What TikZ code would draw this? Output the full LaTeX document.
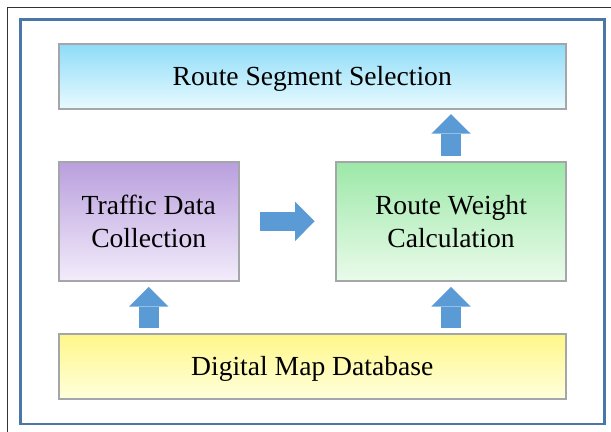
\documentclass[tikz,border=0pt]{standalone}
\usepackage{fontspec}
\setmainfont{Liberation Serif}
\usetikzlibrary{arrows.meta}
\definecolor{frame}{HTML}{4A76A8}
\definecolor{arrow}{HTML}{5B9BD5}
\definecolor{rim}{HTML}{A4A6AA}
\definecolor{skytop}{HTML}{8EDCF8}
\definecolor{skybot}{HTML}{E8FAFF}
\definecolor{lilactop}{HTML}{B99FDD}
\definecolor{lilacbot}{HTML}{F3ECFB}
\definecolor{mintop}{HTML}{9CE8A8}
\definecolor{minbot}{HTML}{EAFBEA}
\definecolor{lemontop}{HTML}{FFF78A}
\definecolor{lemonbot}{HTML}{FFFFDC}

\begin{document}
\begin{tikzpicture}[x=0.5pt, y=-0.5pt,
		every node/.style={font=\fontsize{13.8}{16.5}\selectfont, align=center},
		block/.style={draw=rim, line width=1pt, inner sep=0pt},
		wide/.style={block, minimum width=253.75pt, minimum height=32.35pt, text depth=0pt},
		tall/.style={block, minimum height=59.65pt},
		blockarrow/.style={draw=arrow, line width=9.75pt,
			-{Triangle[width=19.7pt, length=9.8pt, line width=0pt, fill=arrow]}}
	]
		\useasboundingbox (0,0) rectangle (611,432);
		\draw [black!80, line width=0.5pt] (7,432) -- (7,8) -- (611,8);
		\draw [frame, line width=1.3pt] (20.5,19.5) rectangle (604.5,424);
		%
		\node [wide, top color=skytop, bottom color=skybot] (rss) at (312.25,76.35) {Route Segment Selection};
		\node [tall, minimum width=90.25pt, top color=lilactop, bottom color=lilacbot] (tdc) at (148.75,221.35) {Traffic Data\\Collection};
		\node [tall, minimum width=115pt, top color=mintop, bottom color=minbot] (rwc) at (451,221.35) {Route Weight\\Calculation};
		\node [wide, top color=lemontop, bottom color=lemonbot] (dmd) at (312.25,366.35) {Digital Map Database};
		%
		\draw [blockarrow, shorten <=2.5pt, shorten >=2.5pt] (dmd.north -| tdc) -- (tdc);
		\draw [blockarrow, shorten <=2.5pt, shorten >=2.5pt] (dmd.north -| rwc) -- (rwc);
		\draw [blockarrow, shorten <=2.5pt, shorten >=2.2pt] (rwc.north) -- (rss.south -| rwc);
		\draw [blockarrow, shorten <=10pt, shorten >=10.2pt] (tdc.east) -- (rwc.west);
	\end{tikzpicture}
\end{document}
